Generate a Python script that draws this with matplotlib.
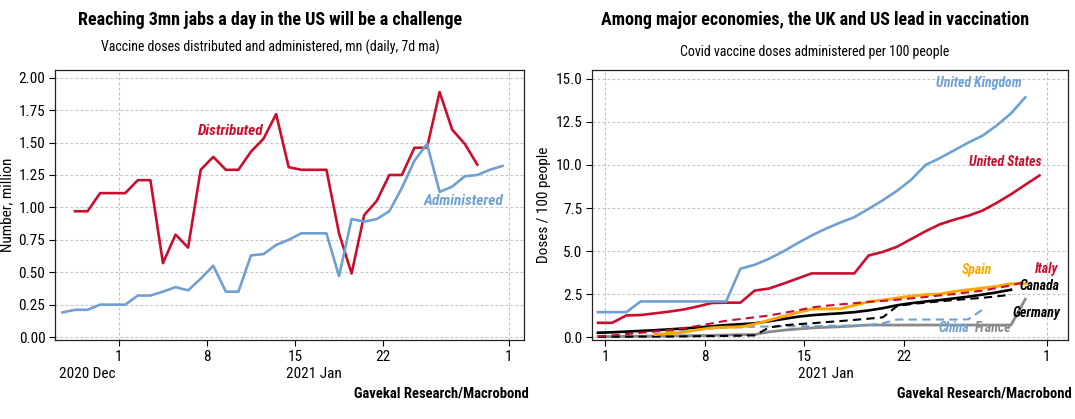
import numpy as np
import pandas as pd
import matplotlib
matplotlib.use("Agg")
import matplotlib.pyplot as plt
from matplotlib import transforms

plt.rcParams["font.family"] = ["Roboto Condensed", "Lato", "DejaVu Sans"]
plt.rcParams["axes.grid"] = False

# ---- left chart: US doses, mn (daily, 7d ma) ----
distributed = [0.97, 0.97, 1.11, 1.11, 1.11, 1.21, 1.21, 0.57, 0.79, 0.69,
               1.29, 1.39, 1.29, 1.29, 1.43, 1.53, 1.72, 1.31, 1.29, 1.29,
               1.29, 0.80, 0.49, 0.94, 1.05, 1.25, 1.25, 1.46, 1.46, 1.89,
               1.60, 1.49, 1.33]
administered = [0.19, 0.21, 0.21, 0.25, 0.25, 0.25, 0.32, 0.32, 0.35, 0.385,
                0.36, 0.45, 0.55, 0.35, 0.35, 0.63, 0.64, 0.71, 0.75, 0.80,
                0.80, 0.80, 0.47, 0.91, 0.89, 0.91, 0.97, 1.15, 1.36, 1.49,
                1.12, 1.16, 1.24, 1.25, 1.29, 1.32]
dist_start = "2020-12-28 12:00"
adm_start = "2020-12-27 12:00"

# ---- right chart: doses per 100 people ----
uk = [1.45, 1.45, 1.45, 2.07, 2.07, 2.07, 2.07, 2.07, 2.07, 2.07, 3.97, 4.2,
      4.55, 4.97, 5.45, 5.9, 6.3, 6.65, 6.97, 7.45, 7.95, 8.5, 9.15, 10.0,
      10.4, 10.85, 11.3, 11.7, 12.3, 13.0, 13.93]
us = [0.83, 0.83, 1.26, 1.28, 1.38, 1.48, 1.6, 1.78, 1.98, 2.0, 2.0, 2.7,
      2.82, 3.1, 3.4, 3.7, 3.7, 3.7, 3.7, 4.74, 4.95, 5.25, 5.7, 6.15, 6.55,
      6.82, 7.05, 7.35, 7.8, 8.3, 8.85, 9.39]
spain = [0.15, 0.22, 0.28, 0.42, 0.54, 0.58, 0.58, 0.75, 0.98, 1.2, 1.42,
         1.62, 1.64, 1.64, 1.85, 2.05, 2.15, 2.27, 2.38, 2.47, 2.5, 2.65,
         2.75, 2.85, 2.95, 3.1, 3.1]
italy = [0.05, 0.1, 0.17, 0.25, 0.33, 0.42, 0.52, 0.65, 0.8, 0.95, 1.05,
         1.15, 1.25, 1.4, 1.55, 1.72, 1.82, 1.9, 1.97, 2.05, 2.1, 2.17, 2.25,
         2.33, 2.42, 2.5, 2.6, 2.7, 2.85, 3.0, 3.22]
canada = [0.02, 0.02, 0.02, 0.03, 0.03, 0.03, 0.04, 0.05, 0.06, 0.07, 0.08,
          0.1, 0.55, 0.68, 0.75, 0.8, 0.87, 0.93, 1.0, 1.07, 1.15, 1.8, 1.92,
          2.0, 2.08, 2.15, 2.22, 2.28, 2.37, 2.46]
germany = [0.25, 0.28, 0.32, 0.36, 0.4, 0.45, 0.5, 0.56, 0.63, 0.7, 0.75,
           0.8, 0.92, 1.05, 1.18, 1.27, 1.33, 1.38, 1.45, 1.55, 1.68, 1.85,
           1.97, 2.07, 2.15, 2.25, 2.35, 2.47, 2.6, 2.75]
china = [0.28, 0.28, 0.3, 0.3, 0.32, 0.35, 0.4, 0.45, 0.5, 0.55, 0.6, 0.6,
         0.62, 0.63, 0.63, 0.63, 0.65, 0.66, 0.68, 0.7, 0.8, 1.02, 1.02, 1.02,
         1.02, 1.02, 1.03, 1.6]
france = [0.03, 0.03, 0.04, 0.05, 0.06, 0.07, 0.08, 0.09, 0.1, 0.12, 0.14,
          0.15, 0.3, 0.4, 0.47, 0.53, 0.57, 0.6, 0.65, 0.7, 0.7, 0.7, 0.7,
          0.7, 0.7, 0.7, 0.7, 0.7, 0.7, 0.7, 2.2]
jan_start = "2020-12-31 12:00"
spain_start = "2021-01-04 12:00"

tick_dates = ["2021-01-01", "2021-01-08", "2021-01-15", "2021-01-22", "2021-02-01"]
tick_labels = ["1", "8", "15", "22", "1"]

RED = "#c8102e"
BLUE = "#6fa0d3"
ORANGE = "#ffa600"
GREY = "#8a8a8a"


def dates(start, values):
    return pd.date_range(start, periods=len(values), freq="D")


def style_axis(ax, xlim, ylim, yticks, yfmt):
    ax.set_xlim(pd.Timestamp(xlim[0]), pd.Timestamp(xlim[1]))
    ax.set_ylim(*ylim)
    ax.set_yticks(yticks)
    ax.set_yticklabels([yfmt.format(v) for v in yticks])
    ax.set_xticks(pd.to_datetime(tick_dates))
    ax.set_xticklabels(tick_labels)
    ax.tick_params(labelsize=11, length=4, width=0.8, direction="out", pad=3)
    # only horizontal lines at y ticks and vertical lines at month starts
    for y in yticks:
        ax.axhline(y, color="#c4c4c4", lw=0.8, ls=(0, (2.5, 2)), zorder=0)
    for d in ["2021-01-01", "2021-02-01"]:
        ax.axvline(pd.Timestamp(d), color="#c4bccc", lw=0.8, ls=(0, (2.5, 2)), zorder=0)
    for s in ax.spines.values():
        s.set_linewidth(0.9)
        s.set_color("#222222")
    ax.grid(False)
    for t in ax.xaxis.get_major_ticks() + ax.yaxis.get_major_ticks():
        t.gridline.set_visible(False)


fig = plt.figure(figsize=(10.75, 4.19), dpi=100)
ax1 = fig.add_axes([0.0512, 0.1885, 0.4362, 0.6445])
ax2 = fig.add_axes([0.5507, 0.1885, 0.4428, 0.6445])

# left chart
ax1.plot(dates(dist_start, distributed), distributed, color=RED, lw=1.9)
ax1.plot(dates(adm_start, administered), administered, color=BLUE, lw=1.9)
style_axis(ax1, ("2020-12-26 22:00", "2021-02-02 05:00"), (-0.023, 2.06),
           np.arange(0, 2.01, 0.25), "{:.2f}")
ax1.set_ylabel("Number, million", fontsize=11, labelpad=3)
ax1.text(pd.Timestamp("2021-01-09 22:00"), 1.59, "Distributed", color=RED,
         fontsize=11, fontweight="bold", style="italic", ha="center", va="center")
ax1.text(pd.Timestamp("2021-01-28 10:00"), 1.05, "Administered", color=BLUE,
         fontsize=11, fontweight="bold", style="italic", ha="center", va="center")
tr1 = transforms.blended_transform_factory(ax1.transData, ax1.transAxes)
ax1.text(pd.Timestamp("2020-12-29 12:00"), -0.10, "2020 Dec", transform=tr1,
         fontsize=11, ha="center", va="top")
ax1.text(pd.Timestamp("2021-01-16 12:00"), -0.10, "2021 Jan", transform=tr1,
         fontsize=11, ha="center", va="top")

# right chart
ax2.plot(dates(jan_start, france), france, color=GREY, lw=2.0)
ax2.plot(dates(jan_start, china), china, color=BLUE, lw=1.5, ls=(0, (4, 2.5)))
ax2.plot(dates(jan_start, canada), canada, color="black", lw=1.5, ls=(0, (4, 2.5)))
ax2.plot(dates(jan_start, germany), germany, color="black", lw=1.9)
ax2.plot(dates(spain_start, spain), spain, color=ORANGE, lw=2.1)
ax2.plot(dates(jan_start, italy), italy, color=RED, lw=1.5, ls=(0, (4, 2.5)))
ax2.plot(dates(jan_start, us), us, color=RED, lw=1.9)
ax2.plot(dates(jan_start, uk), uk, color=BLUE, lw=1.9)
style_axis(ax2, ("2020-12-31 02:00", "2021-02-02 12:00"), (-0.17, 15.52),
           np.arange(0, 15.1, 2.5), "{:.1f}")
ax2.set_ylabel("Doses / 100 people", fontsize=11, labelpad=3)
tr2 = transforms.blended_transform_factory(ax2.transData, ax2.transAxes)
ax2.text(pd.Timestamp("2021-01-16 12:00"), -0.10, "2021 Jan", transform=tr2,
         fontsize=11, ha="center", va="top")

labels = [("United Kingdom", "2021-01-27 05:00", 14.77, BLUE),
          ("United States", "2021-01-29 02:00", 10.16, RED),
          ("Spain", "2021-01-27 02:00", 3.87, ORANGE),
          ("Italy", "2021-02-01 00:00", 3.97, RED),
          ("Canada", "2021-01-31 12:00", 2.94, "black"),
          ("Germany", "2021-01-31 07:00", 1.41, "black"),
          ("China", "2021-01-25 12:00", 0.5, BLUE),
          ("France", "2021-01-28 06:00", 0.5, GREY)]
for name, d, v, c in labels:
    ax2.text(pd.Timestamp(d), v, name, color=c, fontsize=10, fontweight="bold",
             style="italic", ha="center", va="center")

# titles and sources
fig.text(0.251, 0.952, "Reaching 3mn jabs a day in the US will be a challenge",
         fontsize=13, fontweight="bold", ha="center", va="center")
fig.text(0.251, 0.888, "Vaccine doses distributed and administered, mn (daily, 7d ma)",
         fontsize=10, ha="center", va="center")
fig.text(0.758, 0.952, "Among major economies, the UK and US lead in vaccination",
         fontsize=13, fontweight="bold", ha="center", va="center")
fig.text(0.758, 0.876, "Covid vaccine doses administered per 100 people",
         fontsize=10, ha="center", va="center")
fig.text(0.492, 0.060, "Gavekal Research/Macrobond", fontsize=10.5,
         fontweight="bold", ha="right", va="center")
fig.text(0.997, 0.060, "Gavekal Research/Macrobond", fontsize=10.5,
         fontweight="bold", ha="right", va="center")

fig.savefig("out.png", dpi=100)
